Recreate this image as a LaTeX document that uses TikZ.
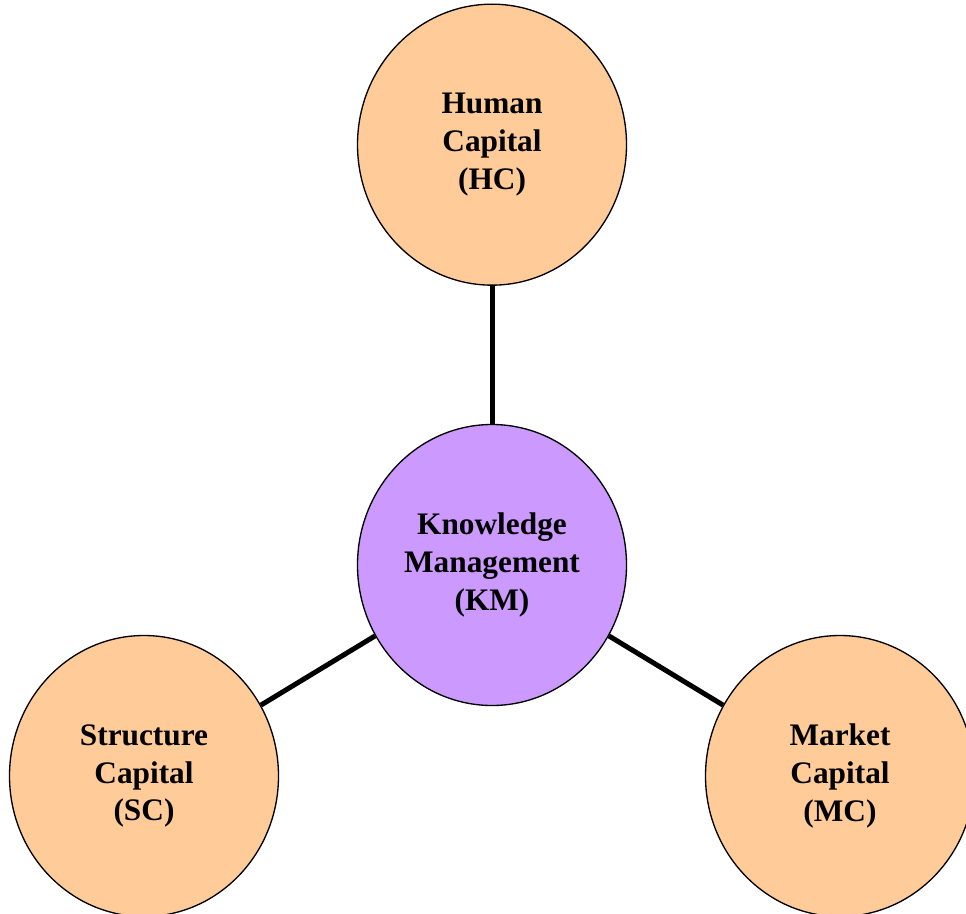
\documentclass[tikz,border=0pt]{standalone}
\usepackage{fontspec}
\setmainfont{Liberation Serif}
\usepackage{xcolor}
\usepackage{tikz}
\usetikzlibrary{positioning, shapes.geometric}

\definecolor{capfill}{HTML}{FFCC99}
\definecolor{kmfill}{HTML}{CC99FF}

\begin{document}
\begin{tikzpicture}[x=0.75pt,y=-0.75pt,line width=3.75pt,
			main node/.style={ellipse,draw,line width=1pt,inner sep=0pt,
				minimum width=201.75pt,minimum height=210.75pt,align=center,
				font=\fontsize{23.5}{28.3}\selectfont\bfseries}]
			\useasboundingbox (0,0) rectangle (966,913);
			
			\node[main node,fill=kmfill] (km) at (492,565) {Knowledge\\Management\\(KM)};
			\node[main node,fill=capfill] (hc) [above=103.5pt of km] {Human\\Capital\\(HC)};
			\node[main node,fill=capfill] (sc) at (144,776) {Structure\\Capital\\(SC)};
			\node[main node,fill=capfill] (mc) at (840,776) {Market\\Capital\\(MC)};
			
			\path (km) edge (hc)
			(km) edge (sc)
			(km) edge (mc);
		\end{tikzpicture}
\end{document}
